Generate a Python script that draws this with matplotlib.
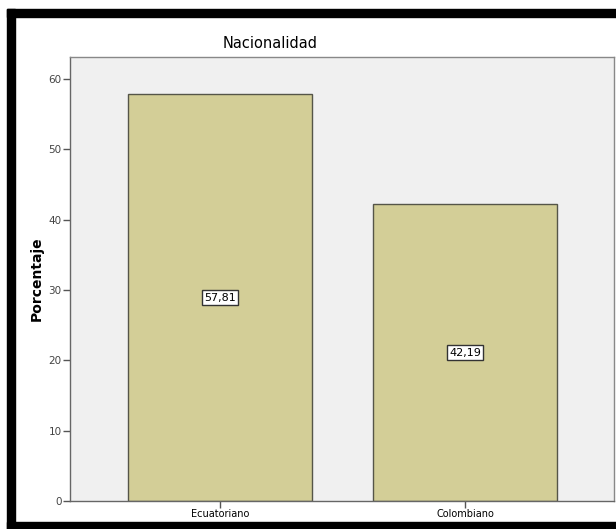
import matplotlib.pyplot as plt
from matplotlib.patches import Rectangle

categorias = ["Ecuatoriano", "Colombiano"]
porcentajes = [57.81, 42.19]
etiquetas = ["57,81", "42,19"]
yticks = [0, 10, 20, 30, 40, 50, 60]

W, H = 616, 529
fig = plt.figure(figsize=(W / 100, H / 100), dpi=100)
fig.patch.set_facecolor("white")

def fx(px):
    return px / W

def fy(py):
    return 1 - py / H

# marco negro del documento
for (x0, y0, x1, y1) in [(7, 9, 616, 17), (7, 9, 15, 529), (7, 522, 616, 529)]:
    fig.patches.append(Rectangle((fx(x0), fy(y1)), fx(x1) - fx(x0), fy(y0) - fy(y1),
                                 transform=fig.transFigure, color="black", zorder=0))

ax = fig.add_axes([fx(70), fy(501), fx(614) - fx(70), fy(57) - fy(501)])
ax.set_facecolor("#f0f0f0")

x = list(range(len(categorias)))
ax.bar(x, porcentajes, width=0.75, color="#d3ce97", edgecolor="#555548", linewidth=1, zorder=2)

for xi, v, t in zip(x, porcentajes, etiquetas):
    ax.text(xi, v / 2, t, ha="center", va="center", fontsize=8, color="black", zorder=3,
            bbox=dict(boxstyle="square,pad=0.2", fc="white", ec="#333333", lw=1))

ax.set_xlim(-0.612, 1.608)
ax.set_ylim(0, 63.1)
ax.set_yticks(yticks)
ax.set_yticklabels([str(t) for t in yticks], fontsize=7.5, color="#444444")
ax.set_xticks(x)
ax.set_xticklabels(categorias, fontsize=7, color="black")
ax.tick_params(axis="both", direction="out", length=5, width=1, color="#555555", pad=1)

for s in ax.spines.values():
    s.set_color("#888888")
    s.set_linewidth(1)
ax.spines["left"].set_color("#666666")
ax.spines["bottom"].set_color("#666666")

fig.text(fx(37), fy(279), "Porcentaje", rotation=90, ha="center", va="center",
         fontsize=10, fontweight="bold")
fig.text(fx(270), fy(43), "Nacionalidad", ha="center", va="center", fontsize=10.5)

fig.savefig("out.png", dpi=100)
